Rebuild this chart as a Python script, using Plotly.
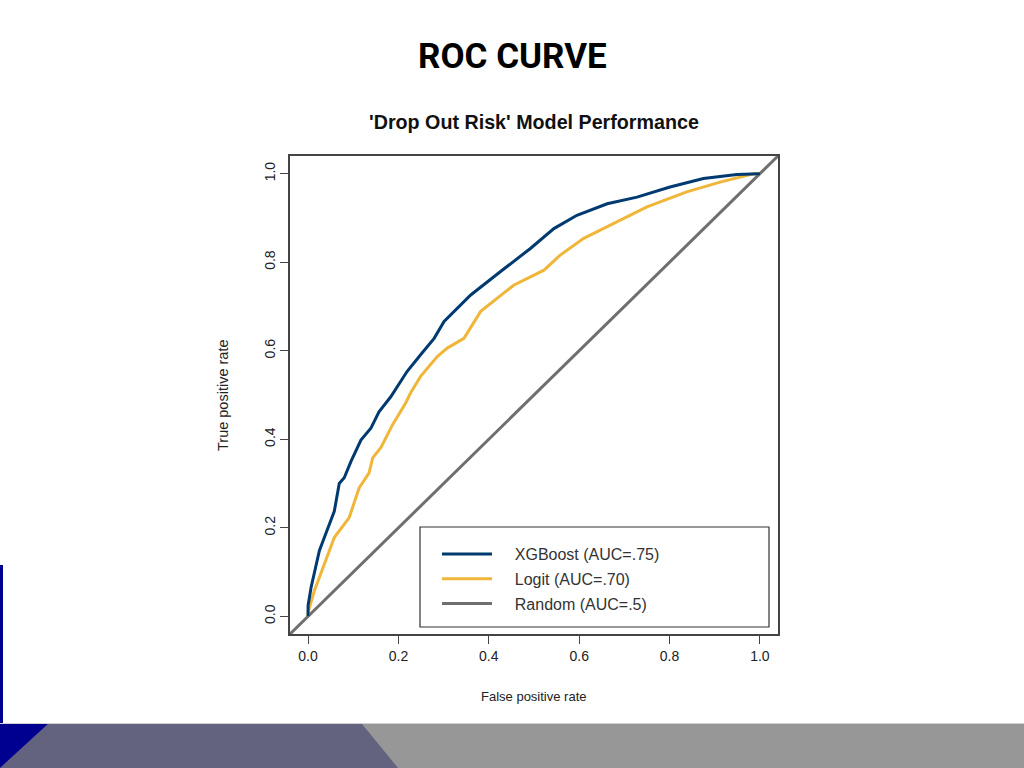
import plotly.graph_objects as go

# ---- data ----
xgb_fpr = [0.0, 0.0, 0.0066, 0.025, 0.036, 0.058, 0.069, 0.08, 0.095, 0.117, 0.139, 0.157,
           0.183, 0.219, 0.249, 0.279, 0.301, 0.36, 0.426, 0.492, 0.544, 0.595, 0.662,
           0.728, 0.801, 0.875, 0.949, 0.993, 1.0]
xgb_tpr = [0.0, 0.024, 0.065, 0.148, 0.178, 0.237, 0.30, 0.313, 0.35, 0.398, 0.425, 0.462,
           0.496, 0.553, 0.591, 0.628, 0.666, 0.726, 0.779, 0.831, 0.876, 0.906, 0.932,
           0.947, 0.970, 0.989, 0.998, 1.0, 1.0]

logit_fpr = [0.0, 0.0, 0.014, 0.036, 0.058, 0.091, 0.113, 0.135, 0.143, 0.161, 0.187, 0.216,
             0.227, 0.249, 0.286, 0.308, 0.345, 0.382, 0.455, 0.522, 0.558, 0.61, 0.676,
             0.75, 0.838, 0.912, 0.985, 1.0]
logit_tpr = [0.0, 0.009, 0.058, 0.118, 0.178, 0.223, 0.29, 0.324, 0.358, 0.381, 0.433, 0.482,
             0.505, 0.542, 0.587, 0.606, 0.628, 0.689, 0.748, 0.782, 0.816, 0.854, 0.887,
             0.925, 0.959, 0.981, 1.0, 1.0]

random_x = [-0.04, 1.04]
random_y = [-0.04, 1.04]

series_names = ["XGBoost (AUC=.75)", "Logit (AUC=.70)", "Random (AUC=.5)"]
tick_vals = [0.0, 0.2, 0.4, 0.6, 0.8, 1.0]
tick_text = ["0.0", "0.2", "0.4", "0.6", "0.8", "1.0"]

NAVY = "#003A70"
GOLD = "#F0B63A"
GREY = "#6F6F6F"
FONT = "Liberation Sans, Arial, sans-serif"
PAD = "\u00a0\u00a0\u00a0\u00a0"

fig = go.Figure()
fig.add_trace(go.Scatter(x=random_x, y=random_y, mode="lines", name=PAD + series_names[2],
                         line=dict(color=GREY, width=3), legendrank=3, legendgroup="c"))
fig.add_trace(go.Scatter(x=logit_fpr, y=logit_tpr, mode="lines", name=PAD + series_names[1],
                         line=dict(color=GOLD, width=3), legendrank=2, legendgroup="b"))
fig.add_trace(go.Scatter(x=xgb_fpr, y=xgb_tpr, mode="lines", name=PAD + series_names[0],
                         line=dict(color=NAVY, width=3), legendrank=1, legendgroup="a"))

L, R, T, B = 290, 778, 156, 634
W, H = 1024, 768
pw, ph = R - L, B - T

def px(x):
    return (x - L) / pw

def py(y):
    return (B - y) / ph

axis_common = dict(
    range=[-0.04, 1.04], tickvals=tick_vals, ticktext=tick_text,
    showgrid=False, zeroline=False, showline=True, mirror=True,
    linecolor="#444444", linewidth=1.5, ticks="outside", ticklen=8,
    tickwidth=1, tickcolor="#444444",
    tickfont=dict(family=FONT, size=14, color="#222222"),
)

fig.update_layout(
    width=W, height=H,
    margin=dict(l=L, r=W - R, t=T, b=H - B, autoexpand=False),
    paper_bgcolor="white", plot_bgcolor="white",
    xaxis=dict(**axis_common),
    yaxis=dict(**axis_common, tickangle=-90),
    showlegend=True,
    legend=dict(
        x=px(437), y=py(537), xanchor="left", yanchor="top",
        bgcolor="rgba(0,0,0,0)", borderwidth=0,
        font=dict(family=FONT, size=16, color="#333333"),
        traceorder="grouped", tracegroupgap=1, itemwidth=50,
    ),
)

# legend frame
fig.add_shape(type="rect", xref="paper", yref="paper",
              x0=px(420), x1=px(769), y0=py(627), y1=py(527),
              line=dict(color="#333333", width=1.2), fillcolor="rgba(0,0,0,0)")

# axis titles and chart title
fig.add_annotation(text="False positive rate", xref="paper", yref="paper",
                   x=0.5, y=py(696), showarrow=False, yanchor="middle",
                   font=dict(family=FONT, size=13, color="#222222"))
fig.add_annotation(text="True positive rate", xref="paper", yref="paper",
                   x=px(223), y=py(396), showarrow=False, textangle=-90,
                   xanchor="center", yanchor="middle",
                   font=dict(family=FONT, size=14.5, color="#222222"))
fig.add_annotation(text="<b>'Drop Out Risk' Model Performance</b>", xref="paper", yref="paper",
                   x=0.5, y=py(122), showarrow=False, yanchor="middle",
                   font=dict(family=FONT, size=19.7, color="#111111"))
fig.add_annotation(text="<b>ROC CURVE</b>", xref="paper", yref="paper",
                   x=px(512), y=py(56), showarrow=False, yanchor="middle",
                   font=dict(family="Roboto, Liberation Sans", size=35, color="#000000"))

# slide decoration (bottom band and left bar)
fig.add_shape(type="path", xref="paper", yref="paper", layer="below",
              path=f"M {px(0)},{py(724)} L {px(1024)},{py(724)} L {px(1024)},{py(768)} L {px(0)},{py(768)} Z",
              fillcolor="#979797", line=dict(width=0))
fig.add_shape(type="path", xref="paper", yref="paper", layer="below",
              path=f"M {px(0)},{py(768)} L {px(48)},{py(724)} L {px(362)},{py(724)} L {px(398)},{py(768)} Z",
              fillcolor="#63637F", line=dict(width=0))
fig.add_shape(type="path", xref="paper", yref="paper", layer="below",
              path=f"M {px(0)},{py(724)} L {px(48)},{py(724)} L {px(0)},{py(768)} Z",
              fillcolor="#000090", line=dict(width=0))
fig.add_shape(type="rect", xref="paper", yref="paper", layer="below",
              x0=px(0), x1=px(3), y0=py(724), y1=py(565),
              fillcolor="#000090", line=dict(width=0))
fig.add_shape(type="line", xref="paper", yref="paper", layer="below",
              x0=px(0), x1=px(1024), y0=py(723.5), y1=py(723.5),
              line=dict(color="#CFCFCF", width=1))

fig.write_html("out.html", config={"displayModeBar": False},
               post_script="document.body.style.margin='0';")
